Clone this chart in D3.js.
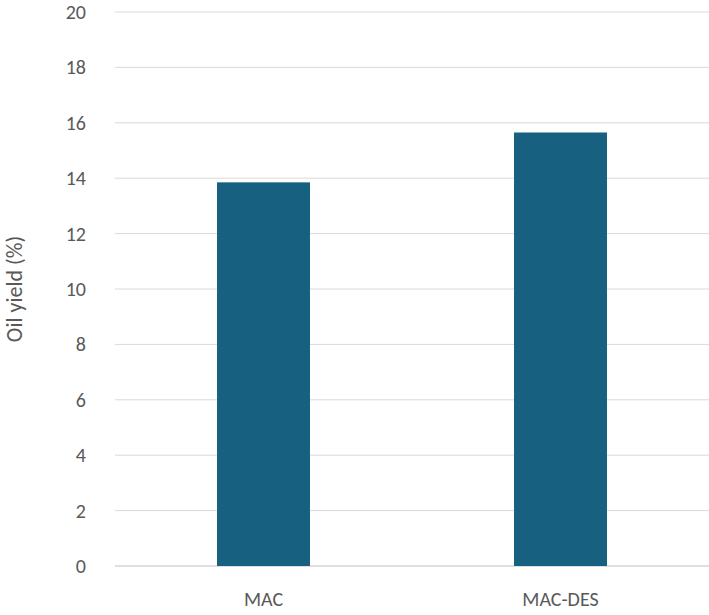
<!DOCTYPE html>
<html><head><meta charset="utf-8">
<script src="https://cdn.jsdelivr.net/npm/d3@7"></script>
<style>body{margin:0;background:#fff}</style></head>
<body><svg id="c" width="709" height="615"></svg>
<script>
const categories = ["MAC", "MAC-DES"];
const values = [13.85, 15.65];
const yTicks = [0, 2, 4, 6, 8, 10, 12, 14, 16, 18, 20];

const svg = d3.select("#c");
const m = {l:115, r:709, t:12, b:566};
const x = d3.scaleBand().domain(categories).range([m.l, m.r]).paddingInner(0.687).paddingOuter(0.3435);
const y = d3.scaleLinear().domain([0, 20]).range([m.b, m.t]);
const font = "Calibri, Carlito, 'Liberation Sans', sans-serif";

svg.append("g").selectAll("line").data(yTicks).join("line")
  .attr("x1", m.l).attr("x2", m.r).attr("y1", d => y(d)).attr("y2", d => y(d))
  .attr("stroke", d => d === 0 ? "#bfbfbf" : "#d9d9d9").attr("stroke-width", 1);

svg.append("g").selectAll("text").data(yTicks).join("text")
  .attr("x", 86).attr("y", d => y(d)).attr("dy", "0.35em").attr("text-anchor", "end")
  .attr("font-family", font).attr("font-size", 20).attr("fill", "#595959").text(d => d);

svg.append("g").selectAll("rect").data(values).join("rect")
  .attr("x", (d, i) => x(categories[i])).attr("width", x.bandwidth())
  .attr("y", d => y(d)).attr("height", d => y(0) - y(d)).attr("fill", "#17607f");

svg.append("g").selectAll("text").data(categories).join("text")
  .attr("x", d => x(d) + x.bandwidth() / 2).attr("y", 606).attr("text-anchor", "middle")
  .attr("font-family", font).attr("font-size", 20).attr("fill", "#595959").text(d => d);

svg.append("text").attr("transform", "translate(22,289) rotate(-90)").attr("text-anchor", "middle")
  .attr("font-family", font).attr("font-size", 22).attr("fill", "#595959").text("Oil yield (%)");
</script></body></html>
